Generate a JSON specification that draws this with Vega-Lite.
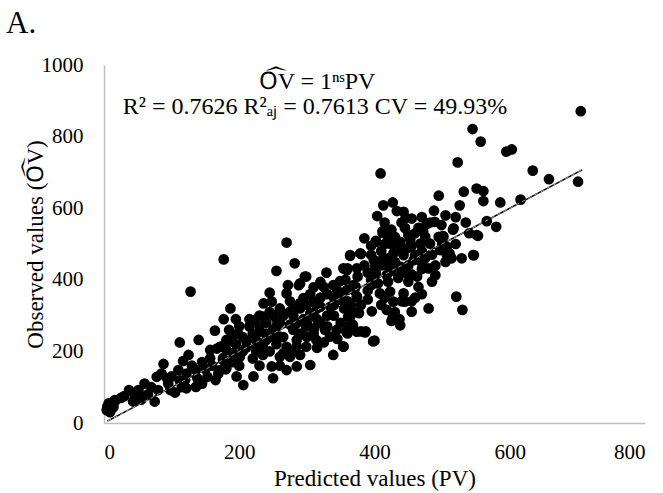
{
"$schema":"https://vega.github.io/schema/vega-lite/v6.json",
"width":541,"height":358,
"autosize":"none",
"padding":{"left":104,"top":65,"right":18,"bottom":70},
"config":{"view":{"stroke":null},"font":"Liberation Serif",
"style":{"guide-label":{"font":"Liberation Serif","fontSize":21,"fill":"#000000"},"guide-title":{"font":"Liberation Serif","fontSize":23,"fill":"#000000","fontWeight":"normal"}},
"axis":{"domainColor":"#bfbfbf","domainWidth":1.5,"ticks":false,"grid":false,"labelFont":"Liberation Serif","labelFontSize":21,"labelColor":"#000000","titleFont":"Liberation Serif","titleFontSize":23,"titleFontWeight":"normal","titleColor":"#000000"}},
"title":{"text":"A.","anchor":"start","frame":"group","font":"Liberation Serif","fontSize":31,"fontWeight":"normal","color":"#000000","dx":-98,"dy":16,"offset":30},
"datasets":{
"pts":[
{"pv":4,"ov":36},{"pv":6,"ov":42},{"pv":8,"ov":48},{"pv":10,"ov":38},{"pv":12,"ov":52},{"pv":14,"ov":44},{"pv":7,"ov":55},{"pv":16,"ov":60},{"pv":9,"ov":30},{"pv":5,"ov":46},
{"pv":37,"ov":92},{"pv":51,"ov":92},{"pv":58,"ov":73},{"pv":43,"ov":60},{"pv":75,"ov":60},{"pv":80,"ov":92},{"pv":98,"ov":92},{"pv":88,"ov":165},{"pv":78,"ov":129},{"pv":85,"ov":138},{"pv":93,"ov":125},{"pv":110,"ov":148},{"pv":122,"ov":138},{"pv":136,"ov":148},{"pv":136,"ov":101},{"pv":122,"ov":97},{"pv":112,"ov":119},{"pv":112,"ov":225},{"pv":140,"ov":232},{"pv":125,"ov":190},{"pv":117,"ov":173},{"pv":157,"ov":181},{"pv":172,"ov":213},{"pv":181,"ov":223},{"pv":167,"ov":208},{"pv":157,"ov":204},{"pv":191,"ov":195},{"pv":176,"ov":181},{"pv":169,"ov":138},{"pv":153,"ov":129},{"pv":138,"ov":125},{"pv":128,"ov":367},{"pv":187,"ov":320},{"pv":177,"ov":290},{"pv":164,"ov":258},{"pv":16,"ov":64},{"pv":30,"ov":75},{"pv":65,"ov":80},{"pv":70,"ov":100},{"pv":60,"ov":110},{"pv":95,"ov":110},{"pv":105,"ov":85},{"pv":120,"ov":120},{"pv":130,"ov":160},{"pv":145,"ov":170},{"pv":150,"ov":150},{"pv":100,"ov":130},{"pv":115,"ov":100},{"pv":160,"ov":160},{"pv":165,"ov":120},{"pv":180,"ov":150},{"pv":145,"ov":110},{"pv":55,"ov":65},{"pv":25,"ov":70},{"pv":45,"ov":80},
{"pv":270,"ov":504},{"pv":177,"ov":457},{"pv":282,"ov":446},{"pv":255,"ov":425},{"pv":299,"ov":409},{"pv":272,"ov":385},{"pv":288,"ov":385},{"pv":329,"ov":420},{"pv":364,"ov":469},{"pv":359,"ov":427},{"pv":320,"ov":394},{"pv":310,"ov":379},{"pv":245,"ov":364},{"pv":270,"ov":362},{"pv":295,"ov":349},{"pv":236,"ov":334},{"pv":248,"ov":339},{"pv":223,"ov":288},{"pv":236,"ov":297},{"pv":250,"ov":302},{"pv":275,"ov":311},{"pv":285,"ov":279},{"pv":305,"ov":306},{"pv":320,"ov":325},{"pv":335,"ov":325},{"pv":349,"ov":352},{"pv":349,"ov":396},{"pv":369,"ov":385},{"pv":374,"ov":352},{"pv":364,"ov":297},{"pv":361,"ov":269},{"pv":344,"ov":260},{"pv":334,"ov":241},{"pv":339,"ov":190},{"pv":354,"ov":213},{"pv":374,"ov":255},{"pv":305,"ov":162},{"pv":290,"ov":190},{"pv":270,"ov":148},{"pv":285,"ov":158},{"pv":250,"ov":125},{"pv":248,"ov":158},{"pv":206,"ov":106},{"pv":221,"ov":130},{"pv":196,"ov":130},{"pv":181,"ov":153},{"pv":181,"ov":204},{"pv":201,"ov":185},{"pv":211,"ov":213},{"pv":198,"ov":250},{"pv":226,"ov":213},{"pv":240,"ov":232},{"pv":231,"ov":255},{"pv":260,"ov":241},{"pv":270,"ov":213},{"pv":285,"ov":232},{"pv":299,"ov":269},{"pv":311,"ov":265},{"pv":327,"ov":260},{"pv":314,"ov":232},{"pv":299,"ov":213},{"pv":275,"ov":185},{"pv":260,"ov":185},{"pv":181,"ov":232},{"pv":172,"ov":213},{"pv":176,"ov":176},{"pv":172,"ov":148},
{"pv":210,"ov":230},{"pv":220,"ov":250},{"pv":230,"ov":270},{"pv":240,"ov":280},{"pv":250,"ov":260},{"pv":260,"ov":280},{"pv":265,"ov":300},{"pv":280,"ov":300},{"pv":290,"ov":320},{"pv":300,"ov":330},{"pv":310,"ov":340},{"pv":320,"ov":350},{"pv":330,"ov":360},{"pv":340,"ov":330},{"pv":330,"ov":300},{"pv":315,"ov":290},{"pv":300,"ov":280},{"pv":290,"ov":250},{"pv":280,"ov":260},{"pv":265,"ov":240},{"pv":255,"ov":220},{"pv":245,"ov":200},{"pv":235,"ov":190},{"pv":220,"ov":180},{"pv":215,"ov":270},{"pv":205,"ov":240},{"pv":195,"ov":220},{"pv":190,"ov":240},{"pv":205,"ov":200},{"pv":230,"ov":160},{"pv":260,"ov":160},{"pv":280,"ov":200},{"pv":300,"ov":240},{"pv":320,"ov":280},{"pv":340,"ov":300},{"pv":355,"ov":320},{"pv":360,"ov":340},{"pv":345,"ov":370},{"pv":325,"ov":380},{"pv":305,"ov":360},{"pv":290,"ov":335},{"pv":275,"ov":340},{"pv":260,"ov":320},{"pv":245,"ov":310},{"pv":230,"ov":300},{"pv":215,"ov":290},{"pv":200,"ov":270},{"pv":185,"ov":260},{"pv":195,"ov":290},{"pv":350,"ov":280},{"pv":365,"ov":330},{"pv":370,"ov":310},{"pv":285,"ov":215},{"pv":295,"ov":290},{"pv":310,"ov":300},{"pv":255,"ov":270},{"pv":240,"ov":250},{"pv":225,"ov":230},{"pv":210,"ov":210},{"pv":200,"ov":160},{"pv":190,"ov":170},{"pv":225,"ov":200},{"pv":265,"ov":195},{"pv":315,"ov":210},{"pv":325,"ov":225},{"pv":345,"ov":235},{"pv":360,"ov":250},
{"pv":523,"ov":728},{"pv":409,"ov":697},{"pv":551,"ov":655},{"pv":532,"ov":646},{"pv":526,"ov":608},{"pv":495,"ov":635},{"pv":413,"ov":608},{"pv":427,"ov":616},{"pv":404,"ov":578},{"pv":443,"ov":590},{"pv":455,"ov":571},{"pv":488,"ov":593},{"pv":477,"ov":555},{"pv":489,"ov":562},{"pv":499,"ov":553},{"pv":472,"ov":534},{"pv":516,"ov":540},{"pv":551,"ov":525},{"pv":501,"ov":522},{"pv":412,"ov":536},{"pv":385,"ov":516},{"pv":402,"ov":509},{"pv":423,"ov":501},{"pv":438,"ov":506},{"pv":453,"ov":512},{"pv":468,"ov":501},{"pv":482,"ov":501},{"pv":435,"ov":483},{"pv":448,"ov":488},{"pv":428,"ov":474},{"pv":443,"ov":469},{"pv":458,"ov":455},{"pv":470,"ov":448},{"pv":497,"ov":483},{"pv":507,"ov":469},{"pv":514,"ov":460},{"pv":529,"ov":460},{"pv":546,"ov":469},{"pv":364,"ov":467},{"pv":380,"ov":472},{"pv":354,"ov":432},{"pv":374,"ov":432},{"pv":360,"ov":432},{"pv":399,"ov":455},{"pv":411,"ov":455},{"pv":401,"ov":437},{"pv":418,"ov":441},{"pv":402,"ov":418},{"pv":418,"ov":413},{"pv":438,"ov":437},{"pv":448,"ov":418},{"pv":463,"ov":409},{"pv":480,"ov":432},{"pv":490,"ov":413},{"pv":485,"ov":395},{"pv":375,"ov":409},{"pv":357,"ov":400},{"pv":372,"ov":381},{"pv":396,"ov":386},{"pv":408,"ov":362},{"pv":423,"ov":367},{"pv":443,"ov":362},{"pv":445,"ov":339},{"pv":428,"ov":339},{"pv":418,"ov":316},{"pv":396,"ov":312},{"pv":377,"ov":307},{"pv":362,"ov":325},{"pv":352,"ov":344},{"pv":374,"ov":353},{"pv":455,"ov":311},{"pv":480,"ov":320},{"pv":521,"ov":353},{"pv":530,"ov":316},{"pv":361,"ov":297},{"pv":358,"ov":256},{"pv":354,"ov":214},{"pv":425,"ov":285},{"pv":438,"ov":273},{"pv":380,"ov":256},{"pv":387,"ov":256},{"pv":398,"ov":228},{"pv":368,"ov":274},
{"pv":705,"ov":871},{"pv":545,"ov":821},{"pv":557,"ov":786},{"pv":595,"ov":758},{"pv":603,"ov":764},{"pv":634,"ov":705},{"pv":658,"ov":681},{"pv":701,"ov":674},{"pv":561,"ov":648},{"pv":561,"ov":620},{"pv":586,"ov":616},{"pv":616,"ov":624},{"pv":566,"ov":564},{"pv":580,"ov":548},{"pv":553,"ov":523},{"pv":547,"ov":469},{"pv":437,"ov":290},{"pv":427,"ov":295},{"pv":400,"ov":230},{"pv":386,"ov":253},{"pv":446,"ov":573},{"pv":482,"ov":560},{"pv":517,"ov":544},{"pv":502,"ov":521},{"pv":511,"ov":473},{"pv":507,"ov":492},{"pv":433,"ov":592},
{"pv":412,"ov":531},{"pv":402,"ov":506},{"pv":379,"ov":474},{"pv":297,"ov":409},{"pv":290,"ov":390},{"pv":339,"ov":385},{"pv":359,"ov":371},
{"pv":390,"ov":420},{"pv":395,"ov":470},{"pv":410,"ov":480},{"pv":420,"ov":460},{"pv":430,"ov":450},{"pv":440,"ov":420},{"pv":450,"ov":440},{"pv":460,"ov":470},{"pv":470,"ov":480},{"pv":455,"ov":495},{"pv":430,"ov":520},{"pv":415,"ov":500},{"pv":395,"ov":400},{"pv":385,"ov":440},{"pv":405,"ov":390},{"pv":420,"ov":395},{"pv":435,"ov":405},{"pv":450,"ov":395},{"pv":465,"ov":380},{"pv":460,"ov":350},{"pv":440,"ov":340},{"pv":415,"ov":350},{"pv":390,"ov":345},{"pv":380,"ov":330},{"pv":370,"ov":370},{"pv":390,"ov":370},{"pv":410,"ov":330},{"pv":430,"ov":310},{"pv":455,"ov":340},{"pv":470,"ov":360},{"pv":475,"ov":460},{"pv":490,"ov":440},{"pv":500,"ov":500},{"pv":520,"ov":500},{"pv":505,"ov":450},{"pv":485,"ov":470},{"pv":495,"ov":520},{"pv":475,"ov":520},{"pv":445,"ov":545},{"pv":460,"ov":530},{"pv":425,"ov":540},{"pv":415,"ov":560},{"pv":440,"ov":560},{"pv":470,"ov":575},{"pv":505,"ov":580},{"pv":520,"ov":575},{"pv":535,"ov":560},{"pv":540,"ov":530},
{"pv":395,"ov":495},{"pv":420,"ov":520},{"pv":450,"ov":525},{"pv":465,"ov":545},{"pv":430,"ov":490},{"pv":410,"ov":440},{"pv":425,"ov":425},{"pv":455,"ov":415},{"pv":470,"ov":430},{"pv":330,"ov":270},{"pv":310,"ov":250},{"pv":275,"ov":275},{"pv":250,"ov":240},{"pv":235,"ov":215},{"pv":340,"ov":350},{"pv":315,"ov":320},{"pv":280,"ov":320},{"pv":255,"ov":290}
],
"fit":[{"pv":5,"ov":5},{"pv":707,"ov":707}],
"ann":[{"pv":315,"ov":933,"t":"O\u1dcdV = 1\u207f\u02e2PV"},{"pv":312,"ov":863,"t":"R\u00b2 = 0.7626 R\u00b2\u2090\u2c7c = 0.7613 CV = 49.93%"}]
},
"layer":[
{"data":{"name":"pts"},"mark":{"type":"circle","size":115,"color":"#000000","opacity":1},
"encoding":{"x":{"field":"pv","type":"quantitative","scale":{"domain":[0,800]},"axis":{"values":[0,200,400,600,800],"format":"d","labelFont":"Liberation Serif","labelFontSize":21,"title":"Predicted values (PV)","labelPadding":18,"titlePadding":5}},
"y":{"field":"ov","type":"quantitative","scale":{"domain":[0,1000]},"axis":{"values":[0,200,400,600,800,1000],"format":"d","labelFont":"Liberation Serif","labelFontSize":21,"title":"Observed values (O\u1dcdV)","labelPadding":21,"titlePadding":-6}}}},
{"data":{"name":"fit"},"mark":{"type":"line","color":"#000000","strokeWidth":1.5},
"encoding":{"x":{"field":"pv","type":"quantitative"},"y":{"field":"ov","type":"quantitative"}}},
{"data":{"name":"fit"},"mark":{"type":"line","color":"#9a9a9a","strokeWidth":1,"strokeDash":[4,3]},
"encoding":{"x":{"field":"pv","type":"quantitative"},"y":{"field":"ov","type":"quantitative"}}},
{"data":{"name":"ann"},"mark":{"type":"text","font":"Liberation Serif","fontSize":24,"color":"#000000","align":"center","baseline":"alphabetic"},
"encoding":{"x":{"field":"pv","type":"quantitative"},"y":{"field":"ov","type":"quantitative"},"text":{"field":"t"}}}
]
}
